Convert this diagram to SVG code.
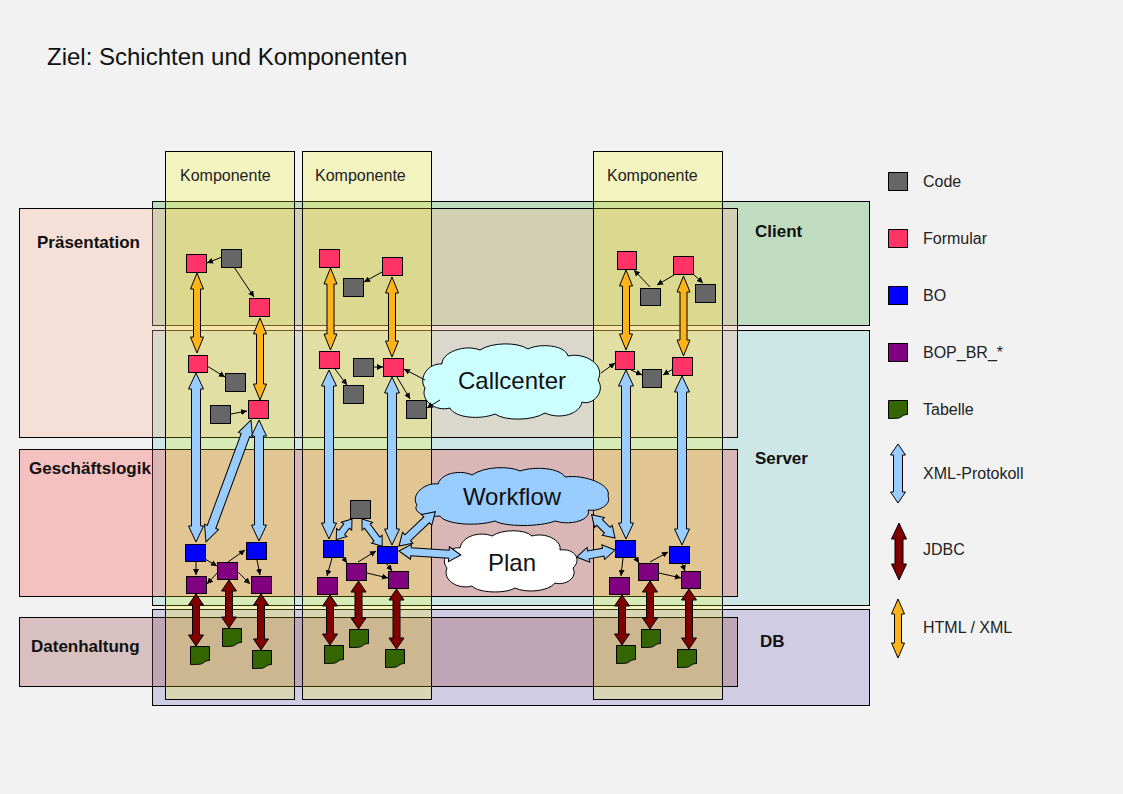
<svg xmlns="http://www.w3.org/2000/svg" width="1123" height="794" viewBox="0 0 1123 794">
<style>
text{font-family:"Liberation Sans",Arial,sans-serif;fill:#111}
.title{font-size:24px}
.lay{font-size:17px;font-weight:bold}
.comp{font-size:16px;fill:#222}
.leg{font-size:16px;fill:#222}
.cloudt{font-size:24px;text-anchor:middle}
.band{stroke:#000;stroke-width:1}
.code{fill:#666;stroke:#000;stroke-width:1}
.form{fill:#ff3366;stroke:#000;stroke-width:1}
.bo{fill:#0000ff;stroke:#000;stroke-width:1}
.bop{fill:#800080;stroke:#000;stroke-width:1}
.tab{fill:#336600;stroke:#000;stroke-width:1}
.xml{fill:#99ccff;stroke:#000;stroke-width:1}
.jdbc{fill:#800000;stroke:#000;stroke-width:1}
.html{fill:#ffb31a;stroke:#000;stroke-width:1}
.cl{stroke:#000;stroke-width:1}
.ln{stroke:#000;stroke-width:1;fill:none;marker-end:url(#ah)}
</style>
<defs>
<marker id="ah" viewBox="0 0 10 10" refX="10" refY="5" markerWidth="6" markerHeight="6" markerUnits="userSpaceOnUse" orient="auto"><path d="M0,0 L10,5 L0,10 z" fill="#000"/></marker>
<path id="tabshape" d="M0,0 H19 V14 C16,14 14,15 12,17 C10,18 4,18 0,18 Z"/>
</defs>
<rect width="1123" height="794" fill="#f2f2f2"/>
<text class="title" x="47" y="65">Ziel: Schichten und Komponenten</text>

<g id="tiers">
<g id="tier-client"><rect class="band" x="152.5" y="201.5" width="717" height="124" fill="#8ec68e" fill-opacity="0.5"/></g>
<g id="tier-server"><rect class="band" x="152.5" y="330.5" width="717" height="275" fill="#a8dada" fill-opacity="0.5"/></g>
<g id="tier-db"><rect class="band" x="152.5" y="609.5" width="717" height="96" fill="#aea6d6" fill-opacity="0.5"/></g>
</g>
<g id="layers">
<g id="layer-praes"><rect class="band" x="19.5" y="208.5" width="718" height="229" fill="#f9b695" fill-opacity="0.3"/></g>
<g id="layer-gesch"><rect class="band" x="19.5" y="449.5" width="718" height="147" fill="#f94b4b" fill-opacity="0.3"/></g>
<g id="layer-daten"><rect class="band" x="19.5" y="617.5" width="718" height="69" fill="#9b4b4b" fill-opacity="0.3"/></g>
</g>
<g id="columns">
<g id="comp1"><rect class="band" x="165.5" y="151.5" width="129" height="548" fill="#ffff00" fill-opacity="0.2"/><text class="comp" x="180" y="181">Komponente</text></g>
<g id="comp2"><rect class="band" x="302.5" y="151.5" width="129" height="548" fill="#ffff00" fill-opacity="0.2"/><text class="comp" x="315" y="181">Komponente</text></g>
<g id="comp3"><rect class="band" x="593.5" y="151.5" width="129" height="548" fill="#ffff00" fill-opacity="0.2"/><text class="comp" x="607" y="181">Komponente</text></g>
</g>
<g id="labels">
<text class="lay" x="37" y="248">Präsentation</text>
<text class="lay" x="29" y="474">Geschäftslogik</text>
<text class="lay" x="31" y="652">Datenhaltung</text>
<text class="lay" x="755" y="237">Client</text>
<text class="lay" x="755" y="464">Server</text>
<text class="lay" x="760" y="647">DB</text>
</g>

<g id="clouds">
<g id="cloud-callcenter"><path class="cl" fill="#ccffff" d="M425,388 C418,378 428,363 442,364 C442,352 465,344 480,350 C492,342 518,342 528,349 C540,343 565,345 568,356 C585,352 606,365 598,380 C606,392 592,406 582,402 C580,414 560,420 545,413 C532,421 505,421 495,414 C480,420 455,418 450,408 C435,412 420,400 425,388 Z"/><text class="cloudt" x="512" y="389">Callcenter</text></g>
<g id="cloud-workflow"><path class="cl" fill="#99ccff" d="M417,505 C410,495 425,482 438,484 C442,472 462,470 472,475 C485,466 510,466 520,471 C535,466 560,468 565,477 C585,474 612,485 608,496 C612,505 598,512 588,510 C592,520 570,526 555,521 C540,527 505,527 495,521 C475,527 445,524 440,516 C425,518 412,512 417,505 Z"/><text class="cloudt" x="512" y="505">Workflow</text></g>
<g id="cloud-plan"><path class="cl" fill="#ffffff" d="M447,568 C440,560 448,546 460,548 C462,536 480,531 492,536 C502,529 525,529 532,536 C545,532 562,540 560,550 C575,548 582,560 573,568 C578,578 565,586 555,583 C548,592 525,593 515,588 C505,594 478,593 472,586 C458,590 442,580 447,568 Z"/><text class="cloudt" x="512" y="571">Plan</text></g>
</g>

<g id="connectors">
<!-- HTML / XML -->
<polygon class="html" transform="translate(197,273) rotate(90)" points="0,0 16,-6.5 16,-3.5 64,-3.5 64,-6.5 80,0 64,6.5 64,3.5 16,3.5 16,6.5"/>
<polygon class="html" transform="translate(260,318) rotate(90)" points="0,0 16,-6.5 16,-3.5 66,-3.5 66,-6.5 82,0 66,6.5 66,3.5 16,3.5 16,6.5"/>
<polygon class="html" transform="translate(330.5,268) rotate(90)" points="0,0 16,-6.5 16,-3.5 66,-3.5 66,-6.5 82,0 66,6.5 66,3.5 16,3.5 16,6.5"/>
<polygon class="html" transform="translate(392,277) rotate(90)" points="0,0 16,-6.5 16,-3.5 64,-3.5 64,-6.5 80,0 64,6.5 64,3.5 16,3.5 16,6.5"/>
<polygon class="html" transform="translate(626,270) rotate(90)" points="0,0 16,-6.5 16,-3.5 64,-3.5 64,-6.5 80,0 64,6.5 64,3.5 16,3.5 16,6.5"/>
<polygon class="html" transform="translate(683.5,276) rotate(90)" points="0,0 16,-6.5 16,-3.5 64,-3.5 64,-6.5 80,0 64,6.5 64,3.5 16,3.5 16,6.5"/>
<!-- XML-Protokoll -->
<polygon class="xml" transform="translate(196,373) rotate(90)" points="0,0 16,-7.5 16,-4.5 153,-4.5 153,-7.5 169,0 153,7.5 153,4.5 16,4.5 16,7.5"/>
<polygon class="xml" transform="translate(251,420) rotate(110.25)" points="0,0 16,-7.5 16,-4.5 114,-4.5 114,-7.5 130,0 114,7.5 114,4.5 16,4.5 16,7.5"/>
<polygon class="xml" transform="translate(259,420) rotate(90)" points="0,0 16,-7.5 16,-4.5 105,-4.5 105,-7.5 121,0 105,7.5 105,4.5 16,4.5 16,7.5"/>
<polygon class="xml" transform="translate(329,370) rotate(90)" points="0,0 16,-7.5 16,-4.5 153,-4.5 153,-7.5 169,0 153,7.5 153,4.5 16,4.5 16,7.5"/>
<polygon class="xml" transform="translate(392,377) rotate(90)" points="0,0 16,-7.5 16,-4.5 152,-4.5 152,-7.5 168,0 152,7.5 152,4.5 16,4.5 16,7.5"/>
<polygon class="xml" transform="translate(626,370) rotate(90)" points="0,0 16,-7.5 16,-4.5 153,-4.5 153,-7.5 169,0 153,7.5 153,4.5 16,4.5 16,7.5"/>
<polygon class="xml" transform="translate(682,376) rotate(90)" points="0,0 16,-7.5 16,-4.5 153,-4.5 153,-7.5 169,0 153,7.5 153,4.5 16,4.5 16,7.5"/>
<polygon class="xml" transform="translate(352,519) rotate(127.3)" points="0,0 9,-6.5 9,-3.5 17,-3.5 17,-6.5 26,0 17,6.5 17,3.5 9,3.5 9,6.5"/>
<polygon class="xml" transform="translate(362,519) rotate(53.5)" points="0,0 9,-6.5 9,-3.5 25,-3.5 25,-6.5 34,0 25,6.5 25,3.5 9,3.5 9,6.5"/>
<polygon class="xml" transform="translate(399,546) rotate(-43.4)" points="0,0 12,-7.5 12,-4 38,-4 38,-7.5 50,0 38,7.5 38,4 12,4 12,7.5"/>
<polygon class="xml" transform="translate(399,551) rotate(3.7)" points="0,0 12,-7.5 12,-4 50,-4 50,-7.5 62,0 50,7.5 50,4 12,4 12,7.5"/>
<polygon class="xml" transform="translate(615,538) rotate(-135)" points="0,0 11,-7 11,-4 22,-4 22,-7 33,0 22,7 22,4 11,4 11,7"/>
<polygon class="xml" transform="translate(615,550) rotate(169.6)" points="0,0 12,-7.5 12,-4 27,-4 27,-7.5 39,0 27,7.5 27,4 12,4 12,7.5"/>
<!-- JDBC -->
<polygon class="jdbc" transform="translate(196,594) rotate(90)" points="0,0 11,-7.5 11,-3.5 41,-3.5 41,-7.5 52,0 41,7.5 41,3.5 11,3.5 11,7.5"/>
<polygon class="jdbc" transform="translate(229,580) rotate(90)" points="0,0 11,-7.5 11,-3.5 37,-3.5 37,-7.5 48,0 37,7.5 37,3.5 11,3.5 11,7.5"/>
<polygon class="jdbc" transform="translate(261,594) rotate(90)" points="0,0 11,-7.5 11,-3.5 45,-3.5 45,-7.5 56,0 45,7.5 45,3.5 11,3.5 11,7.5"/>
<polygon class="jdbc" transform="translate(330,595) rotate(90)" points="0,0 11,-7.5 11,-3.5 39,-3.5 39,-7.5 50,0 39,7.5 39,3.5 11,3.5 11,7.5"/>
<polygon class="jdbc" transform="translate(358.5,581) rotate(90)" points="0,0 11,-7.5 11,-3.5 37,-3.5 37,-7.5 48,0 37,7.5 37,3.5 11,3.5 11,7.5"/>
<polygon class="jdbc" transform="translate(396.5,589) rotate(90)" points="0,0 11,-7.5 11,-3.5 49,-3.5 49,-7.5 60,0 49,7.5 49,3.5 11,3.5 11,7.5"/>
<polygon class="jdbc" transform="translate(622,595) rotate(90)" points="0,0 11,-7.5 11,-3.5 39,-3.5 39,-7.5 50,0 39,7.5 39,3.5 11,3.5 11,7.5"/>
<polygon class="jdbc" transform="translate(650,581) rotate(90)" points="0,0 11,-7.5 11,-3.5 37,-3.5 37,-7.5 48,0 37,7.5 37,3.5 11,3.5 11,7.5"/>
<polygon class="jdbc" transform="translate(689,589) rotate(90)" points="0,0 11,-7.5 11,-3.5 49,-3.5 49,-7.5 60,0 49,7.5 49,3.5 11,3.5 11,7.5"/>
<!-- thin calls -->
<line class="ln" x1="222" y1="257" x2="207" y2="263"/>
<line class="ln" x1="234" y1="267" x2="254" y2="297"/>
<line class="ln" x1="207" y1="366" x2="225" y2="377"/>
<line class="ln" x1="231" y1="414" x2="247" y2="411"/>
<line class="ln" x1="196" y1="562" x2="196" y2="575"/>
<line class="ln" x1="205" y1="559" x2="217" y2="566"/>
<line class="ln" x1="228" y1="562" x2="245" y2="550"/>
<line class="ln" x1="218" y1="572" x2="207" y2="584"/>
<line class="ln" x1="237" y1="571" x2="250" y2="584"/>
<line class="ln" x1="257" y1="560" x2="260" y2="575"/>
<line class="ln" x1="382" y1="272" x2="364" y2="282"/>
<line class="ln" x1="374" y1="367" x2="383" y2="367"/>
<line class="ln" x1="335" y1="369" x2="347" y2="385"/>
<line class="ln" x1="397" y1="377" x2="410" y2="399"/>
<line class="ln" x1="425" y1="380" x2="404" y2="369"/>
<line class="ln" x1="440" y1="400" x2="427" y2="408"/>
<line class="ln" x1="332" y1="558" x2="327" y2="576"/>
<line class="ln" x1="342" y1="556" x2="347" y2="563"/>
<line class="ln" x1="358" y1="562" x2="376" y2="551"/>
<line class="ln" x1="386" y1="563" x2="392" y2="571"/>
<line class="ln" x1="367" y1="573" x2="388" y2="578"/>
<line class="ln" x1="650" y1="287" x2="634" y2="270"/>
<line class="ln" x1="674" y1="275" x2="657" y2="285"/>
<line class="ln" x1="693" y1="274" x2="703" y2="283"/>
<line class="ln" x1="631" y1="370" x2="642" y2="375"/>
<line class="ln" x1="673" y1="369" x2="663" y2="375"/>
<line class="ln" x1="601" y1="373" x2="615" y2="363"/>
<line class="ln" x1="623" y1="558" x2="621" y2="576"/>
<line class="ln" x1="634" y1="555" x2="639" y2="563"/>
<line class="ln" x1="650" y1="562" x2="668" y2="552"/>
<line class="ln" x1="682" y1="563" x2="685" y2="571"/>
<line class="ln" x1="659" y1="573" x2="681" y2="578"/>
</g>

<g id="nodes">
<g id="n-f1"><rect class="form" x="186.5" y="254.5" width="20" height="18"/></g>
<g id="n-c1"><rect class="code" x="221.5" y="249.5" width="20" height="18"/></g>
<g id="n-f2"><rect class="form" x="249.5" y="298.5" width="20" height="18"/></g>
<g id="n-f3"><rect class="form" x="188.5" y="355.5" width="19" height="17"/></g>
<g id="n-c2"><rect class="code" x="225.5" y="373.5" width="20" height="18"/></g>
<g id="n-c3"><rect class="code" x="210.5" y="405.5" width="20" height="18"/></g>
<g id="n-f4"><rect class="form" x="248.5" y="400.5" width="20" height="18"/></g>
<g id="n-bo1"><rect class="bo" x="185.5" y="544.5" width="20" height="17"/></g>
<g id="n-bo2"><rect class="bo" x="246.5" y="542.5" width="20" height="17"/></g>
<g id="n-p1"><rect class="bop" x="186.5" y="576.5" width="20" height="17"/></g>
<g id="n-p2"><rect class="bop" x="217.5" y="562.5" width="20" height="17"/></g>
<g id="n-p3"><rect class="bop" x="251.5" y="576.5" width="20" height="17"/></g>
<g id="n-t1"><use href="#tabshape" class="tab" x="190.5" y="646.5"/></g>
<g id="n-t2"><use href="#tabshape" class="tab" x="222.5" y="628.5"/></g>
<g id="n-t3"><use href="#tabshape" class="tab" x="252.5" y="650.5"/></g>

<g id="n-f5"><rect class="form" x="319.5" y="249.5" width="20" height="18"/></g>
<g id="n-f6"><rect class="form" x="382.5" y="257.5" width="20" height="18"/></g>
<g id="n-c4"><rect class="code" x="343.5" y="278.5" width="20" height="18"/></g>
<g id="n-f7"><rect class="form" x="319.5" y="351.5" width="20" height="17"/></g>
<g id="n-c5"><rect class="code" x="353.5" y="358.5" width="20" height="18"/></g>
<g id="n-f8"><rect class="form" x="383.5" y="358.5" width="20" height="18"/></g>
<g id="n-c6"><rect class="code" x="343.5" y="385.5" width="20" height="18"/></g>
<g id="n-c7"><rect class="code" x="406.5" y="400.5" width="20" height="18"/></g>
<g id="n-c8"><rect class="code" x="350.5" y="500.5" width="20" height="18"/></g>
<g id="n-bo3"><rect class="bo" x="323.5" y="540.5" width="20" height="17"/></g>
<g id="n-bo4"><rect class="bo" x="377.5" y="546.5" width="20" height="17"/></g>
<g id="n-p4"><rect class="bop" x="317.5" y="577.5" width="20" height="17"/></g>
<g id="n-p5"><rect class="bop" x="346.5" y="563.5" width="20" height="17"/></g>
<g id="n-p6"><rect class="bop" x="388.5" y="571.5" width="20" height="17"/></g>
<g id="n-t4"><use href="#tabshape" class="tab" x="324.5" y="645.5"/></g>
<g id="n-t5"><use href="#tabshape" class="tab" x="349.5" y="629.5"/></g>
<g id="n-t6"><use href="#tabshape" class="tab" x="385.5" y="649.5"/></g>

<g id="n-f9"><rect class="form" x="617.5" y="251.5" width="19" height="18"/></g>
<g id="n-f10"><rect class="form" x="673.5" y="256.5" width="20" height="18"/></g>
<g id="n-c9"><rect class="code" x="640.5" y="288.5" width="20" height="17"/></g>
<g id="n-c10"><rect class="code" x="695.5" y="284.5" width="20" height="18"/></g>
<g id="n-f11"><rect class="form" x="615.5" y="351.5" width="19" height="18"/></g>
<g id="n-f12"><rect class="form" x="672.5" y="357.5" width="20" height="18"/></g>
<g id="n-c11"><rect class="code" x="642.5" y="369.5" width="19" height="18"/></g>
<g id="n-bo5"><rect class="bo" x="615.5" y="540.5" width="20" height="17"/></g>
<g id="n-bo6"><rect class="bo" x="669.5" y="546.5" width="20" height="17"/></g>
<g id="n-p7"><rect class="bop" x="609.5" y="577.5" width="20" height="17"/></g>
<g id="n-p8"><rect class="bop" x="638.5" y="563.5" width="20" height="17"/></g>
<g id="n-p9"><rect class="bop" x="681.5" y="571.5" width="19" height="17"/></g>
<g id="n-t7"><use href="#tabshape" class="tab" x="616.5" y="645.5"/></g>
<g id="n-t8"><use href="#tabshape" class="tab" x="641.5" y="629.5"/></g>
<g id="n-t9"><use href="#tabshape" class="tab" x="677.5" y="649.5"/></g>
</g>

<g id="legend">
<rect class="code" x="888.5" y="172.5" width="19" height="18"/><text class="leg" x="923" y="187">Code</text>
<rect class="form" x="888.5" y="229.5" width="19" height="18"/><text class="leg" x="923" y="244">Formular</text>
<rect class="bo" x="888.5" y="286.5" width="19" height="18"/><text class="leg" x="923" y="301">BO</text>
<rect class="bop" x="888.5" y="343.5" width="19" height="18"/><text class="leg" x="923" y="358">BOP_BR_*</text>
<use href="#tabshape" class="tab" x="888.5" y="400.5"/><text class="leg" x="923" y="415">Tabelle</text>
<polygon class="xml" transform="translate(898,444) rotate(90)" points="0,0 11,-7.5 11,-4.5 48,-4.5 48,-7.5 59,0 48,7.5 48,4.5 11,4.5 11,7.5"/><text class="leg" x="923" y="479">XML-Protokoll</text>
<polygon class="jdbc" transform="translate(899,523) rotate(90)" points="0,0 16,-7.5 16,-4 41,-4 41,-7.5 57,0 41,7.5 41,4 16,4 16,7.5"/><text class="leg" x="923" y="555">JDBC</text>
<polygon class="html" transform="translate(898,599) rotate(90)" points="0,0 15,-6.5 15,-3.5 44,-3.5 44,-6.5 59,0 44,6.5 44,3.5 15,3.5 15,6.5"/><text class="leg" x="923" y="633">HTML / XML</text>
</g>
</svg>
